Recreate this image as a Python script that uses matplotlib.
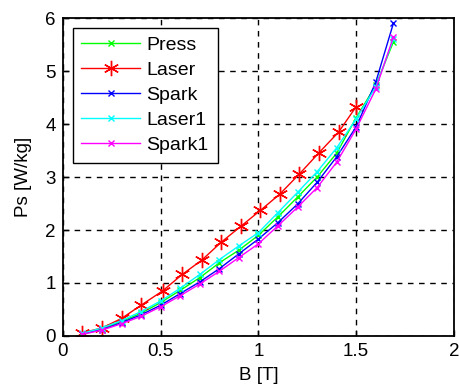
import numpy as np
import matplotlib.pyplot as plt

plt.rcParams['font.family'] = ['Liberation Sans', 'DejaVu Sans']
plt.rcParams['font.size'] = 13.5

# flux density [T]
B_laser = [0.1, 0.2, 0.3, 0.4, 0.51, 0.61, 0.71, 0.81, 0.91, 1.01, 1.11, 1.21, 1.31, 1.41, 1.5]
B_other = [0.1, 0.2, 0.3, 0.4, 0.5, 0.6, 0.7, 0.8, 0.9, 1.0, 1.1, 1.2, 1.3, 1.4, 1.5, 1.6, 1.69]

# specific loss [W/kg]
press  = [0.04, 0.14, 0.27, 0.43, 0.63, 0.86, 1.10, 1.38, 1.62, 1.90, 2.25, 2.62, 3.00, 3.45, 4.12, 4.73, 5.55]
laser  = [0.06, 0.15, 0.33, 0.58, 0.85, 1.16, 1.43, 1.77, 2.07, 2.37, 2.68, 3.06, 3.46, 3.85, 4.33]
spark  = [0.04, 0.12, 0.25, 0.40, 0.58, 0.80, 1.02, 1.27, 1.55, 1.83, 2.14, 2.49, 2.90, 3.38, 3.95, 4.79, 5.90]
laser1 = [0.05, 0.15, 0.29, 0.46, 0.66, 0.90, 1.16, 1.44, 1.70, 1.95, 2.33, 2.71, 3.10, 3.55, 4.10, 4.70, 5.60]
spark1 = [0.03, 0.11, 0.23, 0.37, 0.55, 0.76, 0.98, 1.22, 1.48, 1.74, 2.08, 2.43, 2.80, 3.28, 3.91, 4.66, 5.64]

fig = plt.figure(figsize=(4.59, 3.87), dpi=100)
ax = fig.add_axes([0.137, 0.132, 0.852, 0.821])

ax.plot(B_other, press, color='#00ff00', marker='x', ms=5, mew=1, lw=1, label='Press')
ax.plot(B_laser, laser, color='#ff0000', marker=(6, 2, 0), ms=11, mew=1, lw=1, label='Laser')
ax.plot(B_other, spark, color='#0000ff', marker='x', ms=5, mew=1, lw=1, label='Spark')
ax.plot(B_other, laser1, color='#00ffff', marker='x', ms=5, mew=1, lw=1, label='Laser1')
ax.plot(B_other, spark1, color='#ff00ff', marker='x', ms=5, mew=1, lw=1, label='Spark1')

ax.set_xlim(0, 2)
ax.set_ylim(0, 6)
ax.set_xticks(np.arange(0, 2.01, 0.5))
ax.set_xticklabels(['0', '0.5', '1', '1.5', '2'])
ax.set_yticks(np.arange(0, 7, 1))
ax.grid(True, color='black', linestyle=(0, (4, 4)), linewidth=1)
ax.tick_params(direction='in', length=4, width=1, colors='black', pad=5)
for s in ax.spines.values():
    s.set_linewidth(1.3)

ax.set_xlabel('B [T]', labelpad=5)
ax.set_ylabel('Ps [W/kg]', labelpad=10)

leg = ax.legend(loc='upper left', bbox_to_anchor=(0.025, 0.97), fancybox=False,
                framealpha=1, edgecolor='black', fontsize=14, handlelength=3.0,
                borderpad=0.45, labelspacing=0.38, handletextpad=0.35,
                borderaxespad=0)
leg.get_frame().set_linewidth(1)

fig.savefig('out.png', dpi=100)
